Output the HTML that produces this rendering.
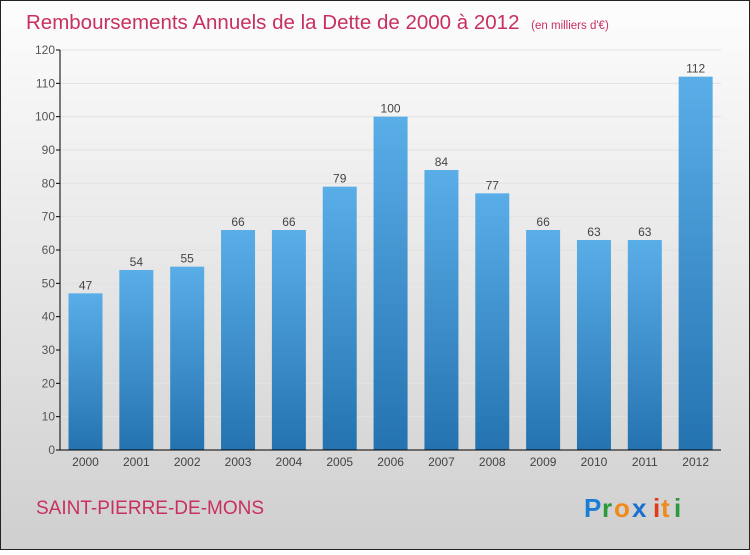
<!DOCTYPE html>
<html><head><meta charset="utf-8"><style>
html,body{margin:0;padding:0}
body{width:750px;height:550px;overflow:hidden;font-family:"Liberation Sans",sans-serif}
</style></head><body>
<svg width="750" height="550" xmlns="http://www.w3.org/2000/svg">
<defs>
<linearGradient id="bg" x1="0" y1="0" x2="0" y2="1"><stop offset="0" stop-color="#fdfdfd"/><stop offset="1" stop-color="#cfcfcf"/></linearGradient>
<linearGradient id="bar" x1="0" y1="0" x2="0" y2="1"><stop offset="0" stop-color="#5aaee8"/><stop offset="1" stop-color="#2473b0"/></linearGradient>
</defs>
<rect x="0.5" y="0.5" width="749" height="549" fill="url(#bg)" stroke="#222"/>
<text x="26" y="29" font-size="20.5" fill="#c8305f">Remboursements Annuels de la Dette de 2000 à 2012 <tspan font-size="11.5" dx="6">(en milliers d'€)</tspan></text>
<g id="plot"></g>
<text x="36" y="514" font-size="19" fill="#c8305f">SAINT-PIERRE-DE-MONS</text>
<g font-size="26" font-weight="bold">
<text x="584" y="517" fill="#1a7fd4">P</text><text x="602" y="517" fill="#2a9a3a">r</text><text x="614" y="517" fill="#f08a1a">o</text><text x="632" y="517" fill="#1a6fd0">x</text><text x="653" y="517" fill="#e03a1a">i</text><text x="661" y="517" fill="#f08a1a">t</text><text x="674" y="517" fill="#2a9a3a">i</text>
</g>
</svg>
<script>
const categories=["2000","2001","2002","2003","2004","2005","2006","2007","2008","2009","2010","2011","2012"];
const values=[47,54,55,66,66,79,100,84,77,66,63,63,112];
const yTicks=[0,10,20,30,40,50,60,70,80,90,100,110,120];
const NS="http://www.w3.org/2000/svg";
const g=document.getElementById("plot");
const x0=60,x1=721,y0=450,y1=50,yMax=120;
const slot=(x1-x0)/categories.length;
const yS=v=>y0-(v/yMax)*(y0-y1);
const xS=i=>x0+i*slot;
function mk(t,a){const e=document.createElementNS(NS,t);for(const k in a)e.setAttribute(k,a[k]);g.appendChild(e);return e;}
yTicks.forEach(t=>{
 const y=yS(t);
 const gl=mk("line",{x1:x0,x2:x1,y1:y,y2:y,stroke:"#e2e2e2","stroke-width":1});
 
 
 const tk=mk("line",{x1:x0-4,x2:x0,y1:y,y2:y,stroke:"#000"});
 
 
 const tx=mk("text",{x:x0-5,y:y+4,"text-anchor":"end","font-size":"12",fill:"#555"});
 tx.textContent=t;
 
 
});
values.forEach((v,i)=>{
 const bx=xS(i)+8.5,bw=34;
 const r=mk("rect",{x:bx,y:yS(v),width:bw,height:y0-yS(v),fill:"url(#bar)"});
 
 
 const l=mk("text",{x:bx+bw/2,y:yS(v)-4,"text-anchor":"middle","font-size":"12",fill:"#444"});
 l.textContent=v;
 
 
 const c=mk("text",{x:bx+bw/2,y:466,"text-anchor":"middle","font-size":"12",fill:"#444"});
 c.textContent=categories[i];
 
 
});
const ya=mk("line",{x1:x0,x2:x0,y1:y1,y2:y0,stroke:"#000"});


const xa=mk("line",{x1:x0,x2:x1,y1:y0,y2:y0,stroke:"#000"});


</script>
</body></html>
